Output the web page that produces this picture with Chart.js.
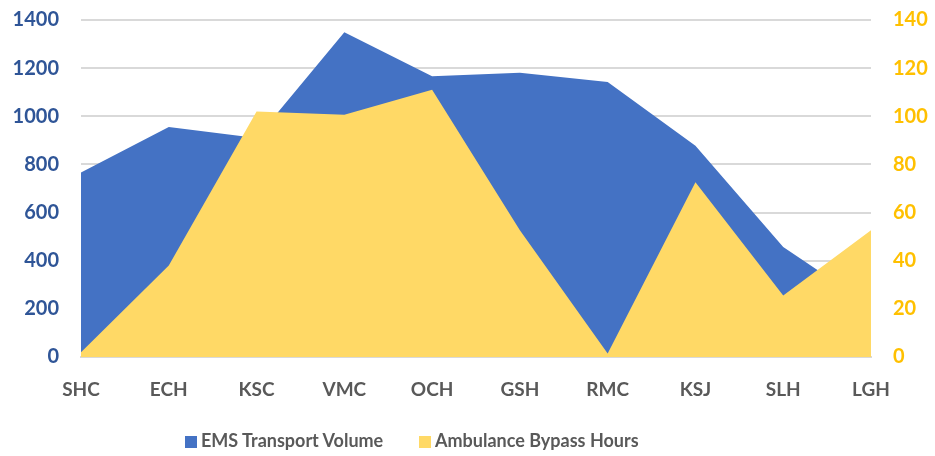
<!DOCTYPE html>
<html>
<head>
<meta charset="utf-8">
<script src="https://cdn.jsdelivr.net/npm/chart.js@4"></script>
<style>
  html, body { margin: 0; padding: 0; background: #ffffff; }
  #wrap { position: relative; width: 935px; height: 456px; }
  .legend-item {
    position: absolute; top: 428px; height: 24px; line-height: 24px;
    font-family: Lato, 'Open Sans', sans-serif; font-weight: bold; font-size: 18px;
    color: #595959; white-space: nowrap;
  }
  .legend-item .swatch {
    display: inline-block; width: 12px; height: 12px; margin-right: 4px; vertical-align: -1px;
  }
</style>
</head>
<body>
<div id="wrap">
  <canvas id="hospitalChart" width="935" height="456"></canvas>
  <div id="legend"></div>
</div>
<script>
var hospitals = ["SHC", "ECH", "KSC", "VMC", "OCH", "GSH", "RMC", "KSJ", "SLH", "LGH"];
var transportVolume = [766, 955, 910, 1349, 1166, 1181, 1142, 878, 457, 212];
var bypassHours = [2, 38, 102, 100.6, 111, 52.7, 1.5, 72.6, 25.6, 52.7];

window.addEventListener("DOMContentLoaded", function() {
    var fontFamily = "Lato, 'Open Sans', sans-serif";
    var ctx = document.getElementById("hospitalChart");

    function fixY(width) {
        return function(axis) {
            axis.width = width;
            axis.paddingTop = 0;
            axis.paddingBottom = 0;
        };
    }

    var chart = new Chart(ctx, {
        type: 'line',
        data: {
            labels: hospitals,
            datasets: [{
                label: "EMS Transport Volume",
                data: transportVolume,
                yAxisID: 'y',
                backgroundColor: '#4472C4',
                borderColor: '#4472C4',
                borderWidth: 0,
                pointRadius: 0,
                fill: 'origin',
                tension: 0,
                order: 2
            }, {
                label: "Ambulance Bypass Hours",
                data: bypassHours,
                yAxisID: 'y1',
                backgroundColor: '#FFD966',
                borderColor: '#FFD966',
                borderWidth: 0,
                pointRadius: 0,
                fill: 'origin',
                tension: 0,
                order: 1
            }]
        },
        options: {
            responsive: false,
            animation: false,
            layout: { padding: { top: 20, left: 0, right: 0, bottom: 29 } },
            plugins: {
                tooltip: { enabled: false },
                legend: { display: false }
            },
            scales: {
                x: {
                    offset: false,
                    grid: { display: false, drawTicks: false },
                    border: { display: true, color: '#D9D9D9', width: 2 },
                    ticks: {
                        color: '#595959',
                        padding: 21,
                        maxRotation: 0,
                        font: { family: fontFamily, size: 19, weight: 'bold' }
                    },
                    afterFit: function(axis) { axis.height = 70; }
                },
                y: {
                    position: 'left',
                    min: 0,
                    max: 1400,
                    grid: { color: '#D9D9D9', lineWidth: 2, drawTicks: false },
                    border: { display: false },
                    ticks: {
                        stepSize: 200,
                        color: '#2F5597',
                        padding: 22,
                        font: { family: fontFamily, size: 20, weight: 'bold' },
                        callback: function(v) { return String(v); }
                    },
                    afterFit: fixY(81)
                },
                y1: {
                    position: 'right',
                    min: 0,
                    max: 140,
                    grid: { display: false, drawTicks: false },
                    border: { display: false },
                    ticks: {
                        stepSize: 20,
                        color: '#FFC000',
                        padding: 22,
                        font: { family: fontFamily, size: 20, weight: 'bold' },
                        callback: function(v) { return String(v); }
                    },
                    afterFit: fixY(64)
                }
            }
        }
    });

    // legend built from the chart's own datasets
    var legendLefts = [185, 419];
    var legend = document.getElementById("legend");
    chart.data.datasets.forEach(function(ds, i) {
        var item = document.createElement("div");
        item.className = "legend-item";
        item.style.left = legendLefts[i] + "px";
        var sw = document.createElement("span");
        sw.className = "swatch";
        sw.style.background = ds.backgroundColor;
        item.appendChild(sw);
        item.appendChild(document.createTextNode(ds.label));
        legend.appendChild(item);
    });
});
</script>
</body>
</html>
